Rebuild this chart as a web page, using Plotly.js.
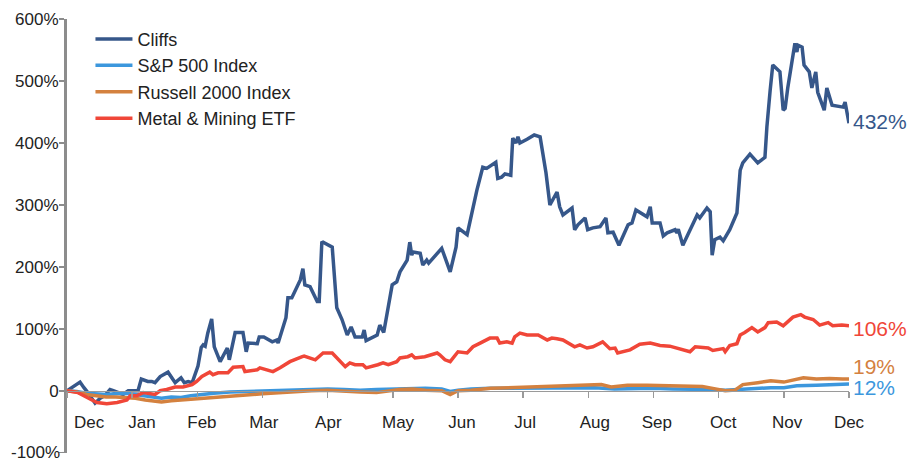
<!DOCTYPE html>
<html>
<head>
<meta charset="utf-8">
<script src="https://cdn.plot.ly/plotly-3.0.1.min.js"></script>
<style>html,body{margin:0;padding:0;background:#fff;}#chart{width:911px;height:462px;}</style>
</head>
<body>
<div id="chart"></div>
<script>
// x values are in months elapsed since the start of the period (0 = start of Dec, 12 = start of next Dec)
const monthLabels = ["Dec","Jan","Feb","Mar","Apr","May","Jun","Jul","Aug","Sep","Oct","Nov","Dec"];
const monthLabelPos = [0.34,1.15,2.07,3.02,4.01,5.08,6.06,7.03,8.10,9.05,10.07,11.05,12.0];
const yTickVals = [-100,0,100,200,300,400,500,600];
const yTickText = ["-100%","0","100%","200%","300%","400%","500%","600%"];

const cliffsX = [0,0.08,0.20,0.26,0.32,0.43,0.51,0.58,0.66,0.71,0.78,0.86,0.94,1.01,1.09,1.14,1.17,1.24,1.30,1.35,1.43,1.55,1.66,1.75,1.80,1.86,1.92,2.01,2.06,2.09,2.12,2.16,2.22,2.26,2.35,2.46,2.49,2.58,2.70,2.75,2.78,2.92,2.95,3.02,3.15,3.22,3.24,3.36,3.39,3.45,3.58,3.62,3.65,3.73,3.84,3.87,3.91,3.93,4.07,4.14,4.22,4.30,4.36,4.42,4.53,4.56,4.59,4.76,4.80,4.86,4.99,5.06,5.11,5.22,5.26,5.29,5.31,5.42,5.46,5.52,5.55,5.75,5.88,5.97,6.00,6.14,6.29,6.38,6.44,6.58,6.61,6.67,6.72,6.81,6.84,6.89,6.92,6.95,7.06,7.17,7.26,7.35,7.41,7.52,7.56,7.61,7.75,7.79,7.84,7.95,7.99,8.07,8.18,8.27,8.30,8.38,8.47,8.61,8.67,8.73,8.90,8.95,8.98,9.10,9.15,9.21,9.33,9.36,9.38,9.45,9.67,9.71,9.82,9.87,9.90,9.94,10.02,10.07,10.17,10.28,10.33,10.37,10.48,10.60,10.71,10.74,10.79,10.83,10.94,10.99,11.02,11.06,11.17,11.20,11.22,11.28,11.31,11.39,11.43,11.49,11.52,11.62,11.66,11.74,11.91,11.94,12.0];
const cliffsY = [0,5,14,5,-3,-20,-12,-8,2,0,-3,-6,0,0,0,19,18,15,15,13,23,30,13,21,13,15,13,40,70,74,72,93,116,71,47,69,50,94,94,63,77,76,87,87,79,82,77,118,150,150,179,197,171,168,144,144,239,240,232,134,115,90,103,87,87,98,81,90,106,94,171,176,192,211,240,219,224,222,203,211,206,230,192,232,263,252,324,361,359,369,343,345,350,348,408,400,410,400,406,413,410,352,300,321,297,284,295,260,268,279,260,263,265,279,255,256,235,268,271,292,281,297,271,271,250,255,260,255,261,235,284,279,295,289,219,244,248,242,260,287,356,368,382,368,377,426,485,526,515,453,456,489,561,547,558,555,526,515,489,515,482,453,489,461,458,466,432];

const spX = [0,0.15,0.3,0.45,0.6,0.75,0.9,1.05,1.2,1.35,1.45,1.6,1.75,1.9,2.05,2.25,2.5,2.75,3.0,3.25,3.5,3.75,4.0,4.25,4.5,4.75,5.0,5.25,5.5,5.75,5.88,6.0,6.2,6.5,6.8,7.0,7.3,7.6,7.9,8.1,8.4,8.7,9.0,9.3,9.6,9.9,10.1,10.3,10.5,10.8,11.0,11.2,11.5,11.8,12.0];
const spY = [0,-1,-4,-5,-6,-5,-4,-6,-8,-11,-12,-10,-11,-8,-6,-4,-2,-1,0,1,2,2,3,2,1,2,3,3,4,3,-1,1,3,4,4,5,5,5,4,5,3,4,4,3,3,2,1,2,4,5,5,8,9,10,11];

const russellX = [0,0.15,0.3,0.45,0.6,0.75,0.9,1.05,1.2,1.35,1.45,1.6,1.75,1.9,2.05,2.25,2.5,2.75,3.0,3.25,3.5,3.75,4.0,4.25,4.5,4.75,4.9,5.1,5.3,5.5,5.75,5.88,6.0,6.2,6.5,6.8,7.1,7.4,7.7,8.0,8.2,8.35,8.6,8.9,9.2,9.5,9.75,9.95,10.1,10.25,10.37,10.6,10.8,11.0,11.15,11.3,11.5,11.7,11.9,12.0];
const russellY = [0,-2,-6,-8,-10,-10,-11,-12,-15,-17,-18,-16,-15,-13,-13,-11,-9,-7,-5,-3,-1,0,1,-1,-2,-3,-1,2,3,1,0,-6,0,1,4,5,6,7,8,9,10,6,9,9,8,7,7,3,0,1,10,13,16,14,18,21,19,20,19,19];

const metalX = [0,0.17,0.31,0.46,0.61,0.77,0.92,0.97,1.07,1.17,1.35,1.43,1.53,1.66,1.78,1.92,1.99,2.07,2.19,2.24,2.32,2.47,2.55,2.70,2.73,2.92,2.96,3.16,3.27,3.42,3.61,3.64,3.81,3.93,4.07,4.14,4.27,4.34,4.42,4.54,4.59,4.77,4.85,4.93,5.06,5.11,5.23,5.29,5.34,5.49,5.57,5.68,5.72,5.80,5.88,6.00,6.14,6.23,6.34,6.49,6.60,6.64,6.75,6.83,6.87,6.95,7.06,7.23,7.37,7.44,7.52,7.61,7.79,7.87,7.98,8.07,8.22,8.33,8.41,8.45,8.64,8.79,8.95,9.10,9.25,9.41,9.56,9.64,9.84,9.91,10.07,10.10,10.17,10.28,10.33,10.40,10.51,10.60,10.71,10.76,10.89,10.99,11.14,11.26,11.32,11.45,11.55,11.68,11.75,11.89,12.0];
const metalY = [0,-3,-11,-19,-21,-19,-15,-8,-8,-3,-6,0,2,6,6,10,15,23,30,26,29,29,38,39,31,34,37,31,37,47,55,56,50,61,61,53,39,45,42,42,37,42,45,42,47,53,55,58,53,55,58,61,58,50,47,63,61,71,77,85,85,77,79,77,87,93,90,90,82,85,84,82,71,74,69,71,79,68,69,61,66,75,77,73,72,68,63,71,69,65,68,63,73,76,90,94,102,95,102,110,111,105,119,123,119,115,106,110,105,106,105];

const seriesNames = ["Cliffs","S&P 500 Index","Russell 2000 Index","Metal & Mining ETF"];
const endLabels = ["432%","12%","19%","106%"];
const colors = ["#36578A","#3C97DD","#D4813F","#F04638"];

const xs = [cliffsX, spX, russellX, metalX];
const ys = [cliffsY, spY, russellY, metalY];

const traces = xs.map((x,i)=>({
  x: x, y: ys[i], type:'scatter', mode:'lines', name: seriesNames[i],
  line:{color:colors[i], width:3.5}, hoverinfo:'skip'
}));
// carrier for the month-label axis
traces.push({x:[0,12], y:[null,null], xaxis:'x2', type:'scatter', mode:'lines', showlegend:false, hoverinfo:'skip'});

const font = {family:'Liberation Sans, Arial, sans-serif', size:17, color:'#222'};
const axisGrey = '#8c8c8c';

const labelShift = [2, -4, 12, -3];
const annotations = endLabels.map((t,i)=>({
  x: 12, y: ys[i][ys[i].length-1], xref:'x', yref:'y', text:t, showarrow:false,
  xanchor:'left', yanchor:'middle', xshift:2, yshift:labelShift[i],
  font:{family:font.family, size:21, color:colors[i]}
}));

const yRange = [-100.5, 600.3];
const zeroPos = -yRange[0] / (yRange[1] - yRange[0]);

// the bottom tick label of the y axis is suppressed by Plotly at the axis crossing; draw it explicitly
const yMin = yTickVals[0];
annotations.push({x:0, xref:'paper', y:yMin, yref:'y', text:yTickText[0], showarrow:false,
  xanchor:'right', yanchor:'middle', xshift:-5, font:font});
const shapes = [{type:'line', xref:'paper', yref:'y', x0:-5/782, x1:0, y0:yMin, y1:yMin,
  line:{color:axisGrey, width:1.5}}];

const tickMonths = [];
for (let k=0;k<=12;k++) tickMonths.push(k);

const layout = {
  width:911, height:462,
  margin:{l:67, r:62, t:19, b:9},
  paper_bgcolor:'#fff', plot_bgcolor:'rgba(0,0,0,0)',
  font: font,
  hovermode:false,
  showlegend:true,
  legend:{x:0.03, y:0.996, xanchor:'left', yanchor:'top', bgcolor:'rgba(0,0,0,0)', itemwidth:37,
    font:{family:font.family, size:18, color:'#222'}, tracegroupgap:0},
  xaxis:{range:[0,12], anchor:'free', position:zeroPos, showgrid:false, zeroline:false,
    showline:true, linecolor:'#9a9a9a', linewidth:1.5,
    tickmode:'array', tickvals:tickMonths, ticks:'outside', ticklen:6, tickwidth:1.5, tickcolor:'#9a9a9a',
    showticklabels:false, fixedrange:true},
  xaxis2:{range:[0,12], overlaying:'x', anchor:'free', position:zeroPos, side:'bottom', showgrid:false, zeroline:false,
    showline:false, ticks:'', tickmode:'array', tickvals:monthLabelPos, ticktext:monthLabels,
    tickfont:font, ticklabelstandoff:19, fixedrange:true},
  yaxis:{range:yRange, showgrid:false, zeroline:false, showline:true, linecolor:axisGrey, linewidth:3,
    tickmode:'array', tickvals:yTickVals, ticktext:yTickText, ticks:'outside', ticklen:5, tickwidth:1.5, tickcolor:axisGrey,
    tickfont:font, ticklabelstandoff:-3, fixedrange:true},
  annotations: annotations,
  shapes: shapes
};

Plotly.newPlot('chart', traces, layout, {displayModeBar:false, staticPlot:true});
</script>
</body>
</html>
